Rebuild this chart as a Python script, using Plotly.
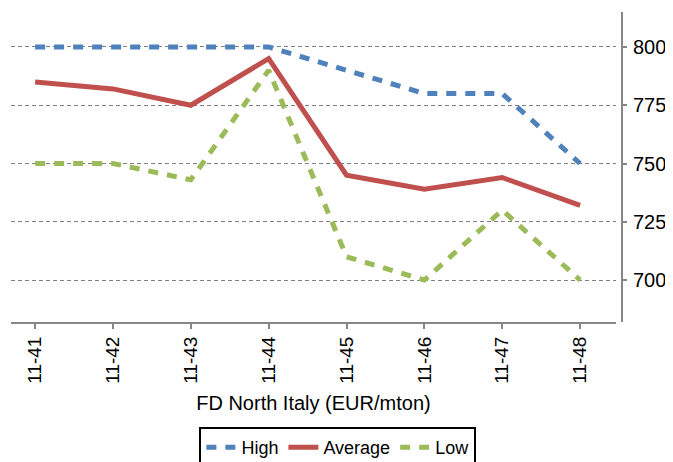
import plotly.graph_objects as go

categories = ["11-41", "11-42", "11-43", "11-44", "11-45", "11-46", "11-47", "11-48"]
high = [800, 800, 800, 800, 790, 780, 780, 750]
average = [785, 782, 775, 795, 745, 739, 744, 732]
low = [750, 750, 743, 790, 710, 700, 730, 700]
y_ticks = [700, 725, 750, 775, 800]

FONT = "Liberation Sans, Arial, sans-serif"

fig = go.Figure()
fig.add_trace(go.Scatter(x=categories, y=high, name="High", mode="lines",
                         line=dict(color="#4F81BD", width=5, dash="10px,9px")))
fig.add_trace(go.Scatter(x=categories, y=average, name="Average", mode="lines",
                         line=dict(color="#C0504D", width=5)))
fig.add_trace(go.Scatter(x=categories, y=low, name="Low", mode="lines",
                         line=dict(color="#9BBB59", width=5, dash="10px,9px")))

fig.update_layout(
    width=665, height=454,
    margin=dict(l=3, r=51, t=4, b=140, autoexpand=False),
    plot_bgcolor="white", paper_bgcolor="white",
    font=dict(family=FONT, color="black", size=19),
    showlegend=True,
    legend=dict(orientation="h", x=0.535, xanchor="center", y=-0.339, yanchor="top",
                bordercolor="black", borderwidth=2, font=dict(size=18),
                itemwidth=30, tracegroupgap=0),
    xaxis=dict(
        type="category", range=[-0.31, 7.46], domain=[0, 0.99],
        showline=True, linecolor="#878787", linewidth=2,
        ticks="outside", ticklen=5, tickcolor="#878787", tickwidth=2,
        tickangle=-90, tickfont=dict(size=19), automargin=False,
        showgrid=False, zeroline=False,
        title=dict(text="FD North Italy (EUR/mton)", font=dict(size=20), standoff=13),
    ),
    yaxis=dict(
        range=[682, 815], side="right", anchor="free", position=1,
        tickvals=y_ticks, showline=True, linecolor="#878787", linewidth=2,
        ticks="outside", ticklen=4, tickcolor="#878787", tickwidth=2,
        ticklabelstandoff=2,
        showgrid=True, gridcolor="#7f7f7f", gridwidth=1, griddash="4px,3px",
        zeroline=False, tickfont=dict(size=20), automargin=False,
    ),
)

fig.write_html("out.html")
